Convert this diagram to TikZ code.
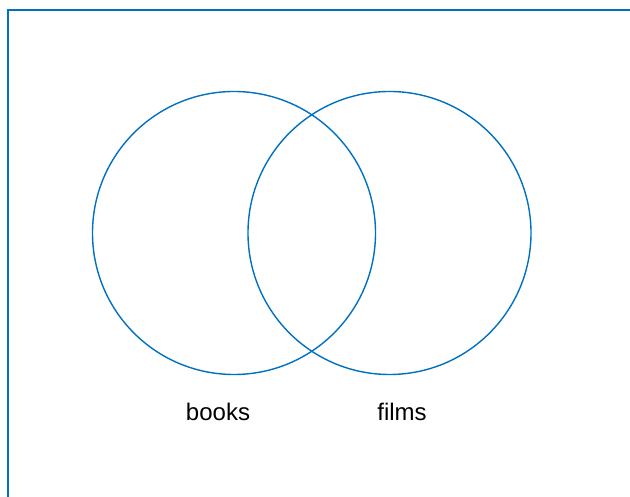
\documentclass[tikz,border=0pt]{standalone}
\usepackage{fontspec}
\setmainfont{Liberation Sans}
\definecolor{vennblue}{HTML}{0070C0}

\begin{document}
\begin{tikzpicture}[x=1pt,y=1pt]
            \useasboundingbox (0,0) rectangle (630,497);
            \clip (0,0) rectangle (630,497);
            \draw[vennblue,line width=1.4pt] (8,-20) -- (8,487) -- (650,487);
            \draw (234,264) node[circle,draw=vennblue,line width=1.4pt,
             minimum size=283pt,inner sep=0pt] (books) {};
            \draw (389.5,264) node[circle,draw=vennblue,line width=1.4pt,
             minimum size=283pt,inner sep=0pt] (films) {};
            \draw (218,76) node[anchor=base,font=\fontsize{24}{28}\selectfont] (bookslabel) {books};
            \draw (402,76) node[anchor=base,font=\fontsize{24}{28}\selectfont] (filmslabel) {films};
\end{tikzpicture}
\end{document}
